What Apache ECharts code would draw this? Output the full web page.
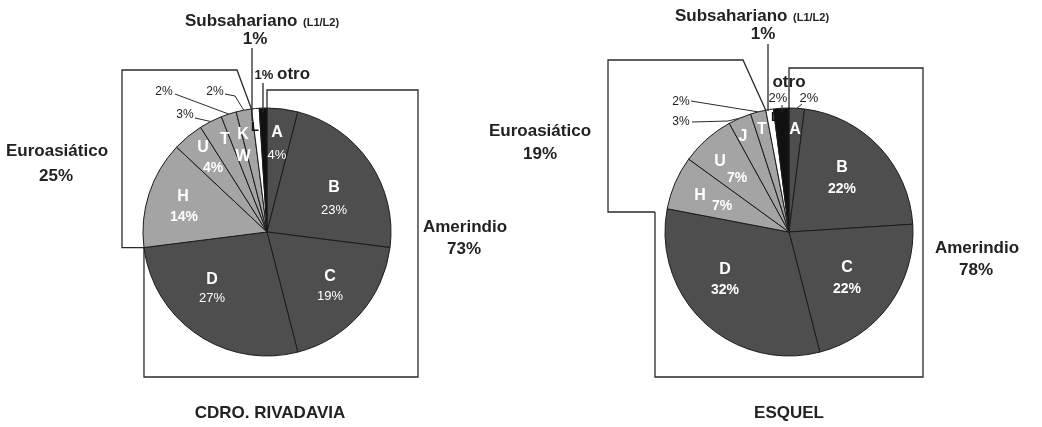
<!DOCTYPE html>
<html>
<head>
<meta charset="utf-8">
<script src="https://cdn.jsdelivr.net/npm/echarts@6/dist/echarts.min.js"></script>
<style>
  html, body { margin: 0; padding: 0; background: #ffffff; }
  #chart { width: 1042px; height: 427px; }
</style>
</head>
<body>
<div id="chart"></div>
<script>
// Haplogroup frequencies (%) for the two localities
const rivCats = ['A', 'B', 'C', 'D', 'H', 'U', 'T', 'W', 'K', 'L', 'otro'];
const rivVals = [4, 23, 19, 27, 14, 4, 3, 2, 2, 1, 1];
const esqCats = ['A', 'B', 'C', 'D', 'H', 'U', 'J', 'T', 'L', 'otro'];
const esqVals = [2, 22, 22, 32, 7, 7, 3, 2, 1, 2];

// Continental groupings of haplogroups
const amerindio = ['A', 'B', 'C', 'D'];
const euroasiatico = ['H', 'U', 'T', 'W', 'K', 'J'];
const subsahariano = ['L'];

const titles = ['CDRO. RIVADAVIA', 'ESQUEL'];

const FONT = '"Liberation Sans", Arial, sans-serif';
const R = 124;
const CENTERS = [[267, 232], [789, 232]];

const COLORS = { amer: '#4e4e4e', euro: '#a4a4a4', sub: '#ffffff', otro: '#111111' };

function colorOf(name) {
  if (amerindio.includes(name)) return COLORS.amer;
  if (euroasiatico.includes(name)) return COLORS.euro;
  if (subsahariano.includes(name)) return COLORS.sub;
  return COLORS.otro;
}
function valOf(cats, vals, name) { return vals[cats.indexOf(name)]; }
function groupSum(cats, vals, group) {
  return cats.reduce((s, c, i) => s + (group.includes(c) ? vals[i] : 0), 0);
}
function total(vals) { return vals.reduce((a, b) => a + b, 0); }
// cumulative share before (and optionally including part of) a slice
function cumBefore(cats, vals, name, frac) {
  const idx = cats.indexOf(name);
  let s = 0;
  for (let i = 0; i < idx; i++) s += vals[i];
  return (s + (frac || 0) * vals[idx]) / total(vals);
}
// point on the rim of a pie at a cumulative share (clockwise from 12 o'clock)
function rim(center, f) {
  const t = f * Math.PI * 2;
  return [center[0] + R * Math.sin(t), center[1] - R * Math.cos(t)];
}
function pct(v) { return v + '%'; }

function text(str, x, y, opts) {
  opts = opts || {};
  const size = opts.size || 16;
  const weight = opts.weight || 'bold';
  const align = opts.align || 'center';
  return {
    type: 'text', x: x, y: y, z: 100, silent: true,
    style: {
      text: str,
      font: weight + ' ' + size + 'px ' + FONT,
      fill: opts.color || '#222222',
      align: align, verticalAlign: 'middle',
      textAlign: align, textVerticalAlign: 'middle'
    }
  };
}
function line(points, opts) {
  opts = opts || {};
  return {
    type: 'polyline', z: opts.z || 1, silent: true,
    shape: { points: points },
    style: { stroke: opts.color || '#2a2a2a', lineWidth: opts.width || 1.3, fill: null }
  };
}

function pieSeries(cats, vals, center) {
  return {
    type: 'pie',
    center: center,
    radius: R,
    startAngle: 90,
    clockwise: true,
    silent: true,
    animation: false,
    label: { show: false },
    labelLine: { show: false },
    emphasis: { disabled: true },
    itemStyle: { borderColor: '#1c1c1c', borderWidth: 1 },
    data: cats.map((c, i) => ({
      name: c, value: vals[i],
      itemStyle: { color: colorOf(c) }
    }))
  };
}

const g = [];
const W = '#ffffff';

// ---------- CDRO. RIVADAVIA ----------
(function () {
  const c = CENTERS[0], cats = rivCats, vals = rivVals;
  const amerEnd = rim(c, groupSum(cats, vals, amerindio) / total(vals));
  const euroEnd = rim(c, cumBefore(cats, vals, 'L'));
  const top = rim(c, 0);

  // group brackets
  g.push(line([euroEnd, [237, 70], [122, 70], [122, amerEnd[1]], amerEnd]));
  g.push(line([amerEnd, [amerEnd[0], 377], [418, 377], [418, 90], [top[0], 90], top]));

  g.push(text('Euroasiático', 57, 151, { size: 17 }));
  g.push(text(pct(groupSum(cats, vals, euroasiatico)), 56, 176, { size: 17 }));
  g.push(text('Amerindio', 465, 227, { size: 17 }));
  g.push(text(pct(groupSum(cats, vals, amerindio)), 464, 249, { size: 17 }));

  g.push(text('Subsahariano', 185, 21, { size: 17, align: 'left' }));
  g.push(text('(L1/L2)', 303, 23, { size: 11, align: 'left' }));
  g.push(text(pct(groupSum(cats, vals, subsahariano)), 255, 39, { size: 17 }));
  g.push(line([[252, 48], [252, 121]], { z: 100 }));
  g.push(text('L', 255, 127, { size: 13, color: '#111' }));

  g.push(text(pct(valOf(cats, vals, 'otro')), 264, 75, { size: 13 }));
  g.push(text('otro', 277, 74, { size: 17, align: 'left' }));
  g.push(line([[263, 83], [263, 112]], { z: 100 }));

  // small outside labels with leaders
  const wMid = rim(c, cumBefore(cats, vals, 'W', 0.5));
  const kMid = rim(c, cumBefore(cats, vals, 'K', 0.5));
  const tMid = rim(c, cumBefore(cats, vals, 'T', 0.5));
  g.push(text(pct(valOf(cats, vals, 'W')), 164, 92, { size: 12, weight: 'normal' }));
  g.push(line([[175, 94], wMid], { width: 1 }));
  g.push(text(pct(valOf(cats, vals, 'K')), 215, 92, { size: 12, weight: 'normal' }));
  g.push(line([[225, 94], [235, 96], kMid], { width: 1 }));
  g.push(text(pct(valOf(cats, vals, 'T')), 185, 115, { size: 12, weight: 'normal' }));
  g.push(line([[195, 118], tMid], { width: 1 }));

  // labels inside slices
  g.push(text('A', 277, 133, { size: 16, color: W }));
  g.push(text(pct(valOf(cats, vals, 'A')), 277, 155, { size: 13, weight: 'normal', color: W }));
  g.push(text('B', 334, 188, { size: 16, color: W }));
  g.push(text(pct(valOf(cats, vals, 'B')), 334, 210, { size: 13, weight: 'normal', color: W }));
  g.push(text('C', 330, 277, { size: 16, color: W }));
  g.push(text(pct(valOf(cats, vals, 'C')), 330, 296, { size: 13, weight: 'normal', color: W }));
  g.push(text('D', 212, 280, { size: 16, color: W }));
  g.push(text(pct(valOf(cats, vals, 'D')), 212, 298, { size: 13, weight: 'normal', color: W }));
  g.push(text('H', 183, 197, { size: 16, color: W }));
  g.push(text(pct(valOf(cats, vals, 'H')), 184, 217, { size: 14, color: W }));
  g.push(text('U', 203, 148, { size: 16, color: W }));
  g.push(text(pct(valOf(cats, vals, 'U')), 213, 168, { size: 14, color: W }));
  g.push(text('T', 225, 140, { size: 16, color: W }));
  g.push(text('K', 243, 135, { size: 16, color: W }));
  g.push(text('W', 243, 157, { size: 16, color: W }));

  g.push(text(titles[0], 270, 413, { size: 17 }));
})();

// ---------- ESQUEL ----------
(function () {
  const c = CENTERS[1], cats = esqCats, vals = esqVals;
  const euroEnd = rim(c, cumBefore(cats, vals, 'L'));
  const top = rim(c, 0);

  g.push(line([euroEnd, [743, 60], [608, 60], [608, 212], [655, 212]]));
  g.push(line([[655, 212], [655, 377], [923, 377], [923, 68], [top[0], 68], top]));

  g.push(text('Euroasiático', 540, 131, { size: 17 }));
  g.push(text(pct(groupSum(cats, vals, euroasiatico)), 540, 154, { size: 17 }));
  g.push(text('Amerindio', 977, 248, { size: 17 }));
  g.push(text(pct(groupSum(cats, vals, amerindio)), 976, 270, { size: 17 }));

  g.push(text('Subsahariano', 675, 16, { size: 17, align: 'left' }));
  g.push(text('(L1/L2)', 793, 18, { size: 11, align: 'left' }));
  g.push(text(pct(groupSum(cats, vals, subsahariano)), 763, 34, { size: 17 }));
  g.push(line([[768, 44], [768, 111]], { z: 100 }));
  g.push(text('L', 775, 117, { size: 13, color: '#111' }));

  g.push(text('otro', 789, 82, { size: 17 }));
  g.push(text(pct(valOf(cats, vals, 'otro')), 778, 98, { size: 13, weight: 'normal' }));
  g.push(line([[782, 105], [782, 112]], { z: 100, width: 1 }));
  g.push(text(pct(valOf(cats, vals, 'A')), 809, 98, { size: 13, weight: 'normal' }));
  g.push(line([[802, 104], rim(c, cumBefore(cats, vals, 'A', 0.5))], { z: 100, width: 1 }));

  const tMid = rim(c, cumBefore(cats, vals, 'T', 0.5));
  const jMid = rim(c, cumBefore(cats, vals, 'J', 0.5));
  g.push(text(pct(valOf(cats, vals, 'T')), 681, 102, { size: 12, weight: 'normal' }));
  g.push(line([[691, 101], tMid], { width: 1 }));
  g.push(text(pct(valOf(cats, vals, 'J')), 681, 122, { size: 12, weight: 'normal' }));
  g.push(line([[692, 122], [728, 121], jMid], { width: 1 }));

  g.push(text('A', 795, 130, { size: 16, color: W }));
  g.push(text('B', 842, 168, { size: 16, color: W }));
  g.push(text(pct(valOf(cats, vals, 'B')), 842, 189, { size: 14, color: W }));
  g.push(text('C', 847, 268, { size: 16, color: W }));
  g.push(text(pct(valOf(cats, vals, 'C')), 847, 289, { size: 14, color: W }));
  g.push(text('D', 725, 270, { size: 16, color: W }));
  g.push(text(pct(valOf(cats, vals, 'D')), 725, 290, { size: 14, color: W }));
  g.push(text('H', 700, 196, { size: 16, color: W }));
  g.push(text(pct(valOf(cats, vals, 'H')), 722, 206, { size: 14, color: W }));
  g.push(text('U', 720, 162, { size: 16, color: W }));
  g.push(text(pct(valOf(cats, vals, 'U')), 737, 178, { size: 14, color: W }));
  g.push(text('J', 743, 137, { size: 16, color: W }));
  g.push(text('T', 762, 130, { size: 16, color: W }));

  g.push(text(titles[1], 789, 413, { size: 17 }));
})();

const chart = echarts.init(document.getElementById('chart'), null, { renderer: 'canvas' });
chart.setOption({
  backgroundColor: '#ffffff',
  animation: false,
  series: [
    pieSeries(rivCats, rivVals, CENTERS[0]),
    pieSeries(esqCats, esqVals, CENTERS[1])
  ],
  graphic: { elements: g }
});
</script>
</body>
</html>
